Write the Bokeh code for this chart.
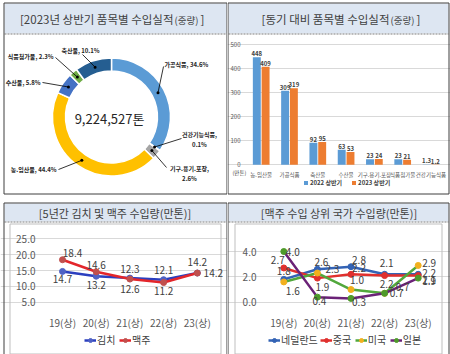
import math
import numpy as np
from bokeh.plotting import figure
from bokeh.models import (Range1d, LinearAxis, FixedTicker, Grid, Legend, LegendItem,
                          NumeralTickFormatter, ColumnDataSource)
from bokeh.layouts import column, row
from bokeh.transform import dodge
from bokeh.embed import file_html
from bokeh.resources import INLINE
from bokeh.core.properties import value

FONT = "Noto Sans CJK KR"
FV = value(FONT)

# ---------------------------------------------------------------- data
title_donut = "[2023년 상반기 품목별 수입실적(중량)]"
title_bars = "[동기 대비 품목별 수입실적(중량)]"
title_kimchi = "[5년간 김치 및 맥주 수입량(만톤)]"
title_beer = "[맥주 수입 상위 국가 수입량(만톤)]"

donut_categories = ["가공식품", "건강기능식품", "기구.용기.포장", "농.임산물", "수산물", "식품첨가물", "축산물"]
donut_shares = [34.6, 0.1, 2.6, 44.4, 5.8, 2.3, 10.1]
donut_total = "9,224,527톤"

bar_categories = ["농.임산물", "가공식품", "축산물", "수산물", "기구.용기.포장", "식품첨가물", "건강기능식품"]
bar_2022 = [448, 309, 92, 63, 23, 23, 1.3]
bar_2023 = [409, 319, 95, 53, 24, 21, 1.2]
bar_series = ["2022 상반기", "2023 상반기"]
bar_unit = "(만톤)"
bar_ticks = [0, 100, 200, 300, 400, 500]

periods = ["19(상)", "20(상)", "21(상)", "22(상)", "23(상)"]
kimchi = [14.7, 13.2, 12.6, 12.1, 14.2]
beer = [18.4, 14.6, 12.3, 11.2, 14.2]
kb_names = ["김치", "맥주"]
kb_ticks = [5, 10, 15, 20, 25]

netherlands = [1.8, 2.6, 2.8, 2.2, 2.2]
china = [2.7, 1.9, 2.2, 2.1, 2.1]
usa = [1.6, 2.3, 1.0, 0.7, 2.9]
japan = [4.0, 0.4, 0.3, 0.7, 1.9]
country_names = ["네덜란드", "중국", "미국", "일본"]
country_ticks = [0, 2, 4]

# ---------------------------------------------------------------- styles / layout
TXT = "#404040"
AX = "#595959"
BAND = "#dde6f2"
BORDER = "#3f3f3f"
GRID = "#d9d9d9"
donut_colors = ["#5b9bd5", "#ed7d31", "#a5a5a5", "#ffc000", "#4472c4", "#70ad47", "#255e91"]
# label anchor (page px), alignment, leader start (page px), two-line?
donut_label_layout = [
    (164, 64, "left", 163, 66, False),
    (199, 139, "center", 181, 138, True),
    (189, 173, "center", 166, 167, True),
    (56, 169, "right", 58, 169, False),
    (40, 82, "right", 42, 82, False),
    (53, 56, "right", 55, 57, False),
    (80, 50, "center", 82, 54, False),
]
kimchi_offsets = [(0, 8), (0, 8.5), (0, 11), (0, -10), (16, 0)]
beer_offsets = [(10, -7), (0, -7), (0, -10), (0, 8), (0, -11)]
nl_offsets = [(0, -8), (4, -7), (8, -7), (2, 10), (11, -1)]
cn_offsets = [(-6, -8), (5, 9), (8, -6), (2, -13), (11, 4)]
us_offsets = [(9, 9), (15, -4), (6, -10), (18, -6), (11, -2)]
jp_offsets = [(9, 0), (2, 4), (8, 4), (12, 0), (11, 3)]

PX = dict(x_range_name="px", y_range_name="py")


class Map:
    def __init__(self, d0, p0, d1, p1):
        self.d0, self.p0, self.k = d0, p0, (d1 - d0) / (p1 - p0)

    def __call__(self, px):
        return self.d0 + (px - self.p0) * self.k


def make_panel(cx0, cy0, w, h, mx, my):
    p = figure(width=w, height=h,
               x_range=Range1d(mx(cx0), mx(cx0 + w)),
               y_range=Range1d(my(cy0 + h), my(cy0)),
               output_backend="svg", toolbar_location=None,
               x_axis_location=None, y_axis_location=None,
               min_border=0, outline_line_color=None,
               background_fill_color="white", border_fill_color="white")
    p.center = []
    p.extra_x_ranges = {"px": Range1d(cx0, cx0 + w)}
    p.extra_y_ranges = {"py": Range1d(cy0 + h, cy0)}
    return p


def band(p, l, t, r, bottom, inner=None):
    p.quad(left=l + 1, right=r - 1, top=t + 1, bottom=bottom, fill_color=BAND, line_color=None, **PX)
    p.segment(x0=l + 1, x1=r - 1, y0=bottom + 0.5, y1=bottom + 0.5, line_color="#7f7f7f",
              line_dash="2 1", line_width=1, **PX)
    if inner is not None:
        il, it, ir, ib = inner
        p.quad(left=il + 0.5, right=ir + 0.5, top=it + 0.5, bottom=ib + 0.5, fill_color=None,
               line_color="#bfbfbf", line_width=1, **PX)


def border(p, l, t, r, b):
    p.quad(left=l + 0.5, right=r - 0.5, top=t + 0.5, bottom=b, fill_color=None,
           line_color=BORDER, line_width=1, **PX)


def top_title(p, t, split_x, y):
    i = t.find("(중량)")
    a, b, c = t[:i], t[i:i + 4], t[i + 4:]
    p.text(x=[split_x], y=[y], text=[a], text_align="right", text_baseline="middle",
           text_font=FV, text_font_size="11.5px", text_color=TXT, **PX)
    p.text(x=[split_x + 1], y=[y + 1], text=[b], text_align="left", text_baseline="middle",
           text_font=FV, text_font_size="9.5px", text_color=TXT, **PX)
    p.text(x=[split_x + 27], y=[y], text=[c], text_align="left", text_baseline="middle",
           text_font=FV, text_font_size="11.5px", text_color=TXT, **PX)


def bottom_title(p, t, cx, y):
    p.text(x=[cx], y=[y], text=[t], text_align="center", text_baseline="middle",
           text_font=FV, text_font_size="11px", text_color=TXT, **PX)


def value_axes(p, mx, my, yticks, yfmt, ylab_px, xaxis_px, grid_x0, grid_x1, n_cat, cats, fsize,
               xfsize=None, ycolor=AX):
    yax = LinearAxis(fixed_location=mx(ylab_px), ticker=FixedTicker(ticks=yticks),
                     axis_line_color=None, major_tick_line_color=None, minor_tick_line_color=None,
                     major_tick_out=0, major_tick_in=0, major_label_standoff=3,
                     major_label_text_font=FONT, major_label_text_font_size=fsize,
                     major_label_text_color=ycolor)
    if yfmt:
        yax.formatter = NumeralTickFormatter(format=yfmt)
    p.add_layout(yax, "left")
    p.add_layout(Grid(dimension=1, ticker=FixedTicker(ticks=yticks), bounds=(mx(grid_x0), mx(grid_x1)),
                      grid_line_color=GRID, grid_line_width=1))
    xax = LinearAxis(fixed_location=my(xaxis_px), ticker=FixedTicker(ticks=list(range(n_cat))),
                     major_label_overrides={i: c for i, c in enumerate(cats)},
                     axis_line_color=None, major_tick_line_color=None, minor_tick_line_color=None,
                     major_tick_out=0, major_tick_in=0, major_label_standoff=3,
                     major_label_text_font=FONT, major_label_text_font_size=xfsize or fsize,
                     major_label_text_color=ycolor)
    p.add_layout(xax, "below")


# ================================================================ top-left: donut
mx_tl = Map(0, 111, 1, 112)
my_tl = Map(0, 116.5, 1, 115.5)
tl = make_panel(0, 0, 227, 200, mx_tl, my_tl)
band(tl, 3, 2, 227, 33)
top_title(tl, title_donut, 173, 18)

total = sum(donut_shares)
cum = np.concatenate([[0.0], np.cumsum(donut_shares) / total])
starts = [math.pi / 2 - 2 * math.pi * c for c in cum[:-1]]
ends = [math.pi / 2 - 2 * math.pi * c for c in cum[1:]]
dsrc = ColumnDataSource(dict(start=starts, end=ends, color=donut_colors))
tl.annular_wedge(x=0, y=0, inner_radius=46, outer_radius=59, start_angle="start", end_angle="end",
                 direction="clock", fill_color="color", line_color="white", line_width=1.5, source=dsrc)
tl.text(x=[-2], y=[-1.5], text=[donut_total], text_align="center", text_baseline="middle",
        text_font=FV, text_font_size="13px", text_color="#262626")

r_mid = 52.5
for cat, share, s, e, lay in zip(donut_categories, donut_shares, starts, ends, donut_label_layout):
    lx, ly, al, sx, sy, wrap = lay
    mid = (s + e) / 2
    dx, dy = r_mid * math.cos(mid), r_mid * math.sin(mid)
    tl.segment(x0=[mx_tl(sx)], y0=[my_tl(sy)], x1=[dx], y1=[dy], line_color="black", line_width=0.8)
    tl.scatter(x=[dx], y=[dy], size=3, fill_color="black", line_color=None)
    label = f"{cat},\n{share}%" if wrap else f"{cat}, {share}%"
    tl.text(x=[mx_tl(lx)], y=[my_tl(ly)], text=[label], text_align=al, text_baseline="middle",
            text_font=FV, text_font_size="6px", text_font_style="bold", text_color="#262626",
            text_line_height=1.2)
border(tl, 3, 2, 227, 193.5)

# ================================================================ top-right: bars
mx_tr = Map(0, 260.7, 1, 289.0)
my_tr = Map(0, 164.3, 100, 140.3)
tr = make_panel(227, 0, 223, 200, mx_tr, my_tr)
band(tr, 227, 2, 449, 33)
top_title(tr, title_bars, 389, 18)
value_axes(tr, mx_tr, my_tr, bar_ticks, None, 243, 167, 245, 445, len(bar_categories), bar_categories,
           "6px", xfsize="5.5px")

bsrc = ColumnDataSource(dict(x=list(range(len(bar_categories))), a=bar_2022, b=bar_2023,
                             la=[f"{v:g}" for v in bar_2022], lb=[f"{v:g}" for v in bar_2023]))
rb1 = tr.vbar(x=dodge("x", -0.155), top="a", width=0.28, source=bsrc, fill_color="#5b9bd5", line_color=None)
rb2 = tr.vbar(x=dodge("x", 0.155), top="b", width=0.28, source=bsrc, fill_color="#ed7d31", line_color=None)
for key, off in (("a", -0.155), ("b", 0.155)):
    tr.text(x=dodge("x", off), y=key, text="l" + key, source=bsrc, text_align="center",
            text_baseline="bottom", y_offset=-1, text_font=FV, text_font_size="6px",
            text_font_style="bold", text_color=TXT)
tr.text(x=[232], y=[172], text=[bar_unit], text_align="left", text_baseline="middle",
        text_font=FV, text_font_size="5.5px", text_color=TXT, **PX)
leg_tr = Legend(items=[LegendItem(label=bar_series[0], renderers=[rb1]),
                       LegendItem(label=bar_series[1], renderers=[rb2])],
                orientation="horizontal", location=(76, 13), glyph_width=5, glyph_height=5,
                label_height=6, label_standoff=2, spacing=9, padding=0, margin=0,
                label_text_font=FONT, label_text_font_size="6px", label_text_font_style="bold",
                label_text_color=TXT, border_line_color=None, background_fill_alpha=0)
tr.add_layout(leg_tr)
border(tr, 227, 2, 449, 193.5)


# ================================================================ line charts
def line_chart(p, series, names, line_colors, marker_colors, offsets, leg_loc):
    idx = list(range(len(periods)))
    items, srcs = [], []
    for vals, name, lc, mc, offs in zip(series, names, line_colors, marker_colors, offsets):
        src = ColumnDataSource(dict(x=idx, y=vals, lab=[f"{v:.1f}" for v in vals],
                                    dx=[o[0] for o in offs], dy=[o[1] for o in offs]))
        r1 = p.line("x", "y", source=src, line_color=lc, line_width=2.5)
        r2 = p.scatter("x", "y", source=src, size=6, fill_color=mc, line_color=mc)
        items.append(LegendItem(label=name, renderers=[r1, r2]))
        srcs.append(src)
    for src in srcs:
        p.text("x", "y", text="lab", source=src, x_offset="dx", y_offset="dy", text_align="center",
               text_baseline="middle", text_font=FV, text_font_size="10px", text_color=TXT)
    leg = Legend(items=items, orientation="horizontal", location=leg_loc, glyph_width=12,
                 glyph_height=10, label_height=10, label_standoff=1, spacing=2, padding=0, margin=0,
                 label_text_font=FONT, label_text_font_size="10px", label_text_color=TXT,
                 border_line_color=None, background_fill_alpha=0)
    p.add_layout(leg)


mx_bl = Map(0, 62, 1, 95.7)
my_bl = Map(0, 317.55, 5, 301.7)
bl = make_panel(0, 200, 227, 154, mx_bl, my_bl)
band(bl, 3, 202, 227, 221, inner=(9, 223, 220, 353))
bottom_title(bl, title_kimchi, 114.5, 212)
value_axes(bl, mx_bl, my_bl, kb_ticks, "0.0", 38, 311, 45, 215, len(periods), periods, "10px")
line_chart(bl, [kimchi, beer], kb_names, ["#2b3fbf", "#e3262b"], ["#4f62c4", "#c0504d"],
           [kimchi_offsets, beer_offsets], (84, 7))
border(bl, 3, 202, 227, 360)

mx_br = Map(0, 283.3, 1, 316.9)
my_br = Map(0, 301.7, 2, 276.35)
br = make_panel(227, 200, 223, 154, mx_br, my_br)
band(br, 227, 202, 449, 221, inner=(234, 223, 441, 353))
bottom_title(br, title_beer, 338.5, 212)
value_axes(br, mx_br, my_br, country_ticks, "0.0", 259, 311, 267, 435, len(periods), periods, "10px")
line_chart(br, [netherlands, china, usa, japan], country_names,
           ["#3363b5", "#e0302e", "#52a83c", "#6b2277"], ["#3363b5", "#e0302e", "#f2b01e", "#4e9a2a"],
           [nl_offsets, cn_offsets, us_offsets, jp_offsets], (41, 7))
border(br, 227, 202, 449, 360)

layout = column(row(tl, tr), row(bl, br))
with open("out.html", "w") as f:
    f.write(file_html(layout, INLINE, title="chart"))
